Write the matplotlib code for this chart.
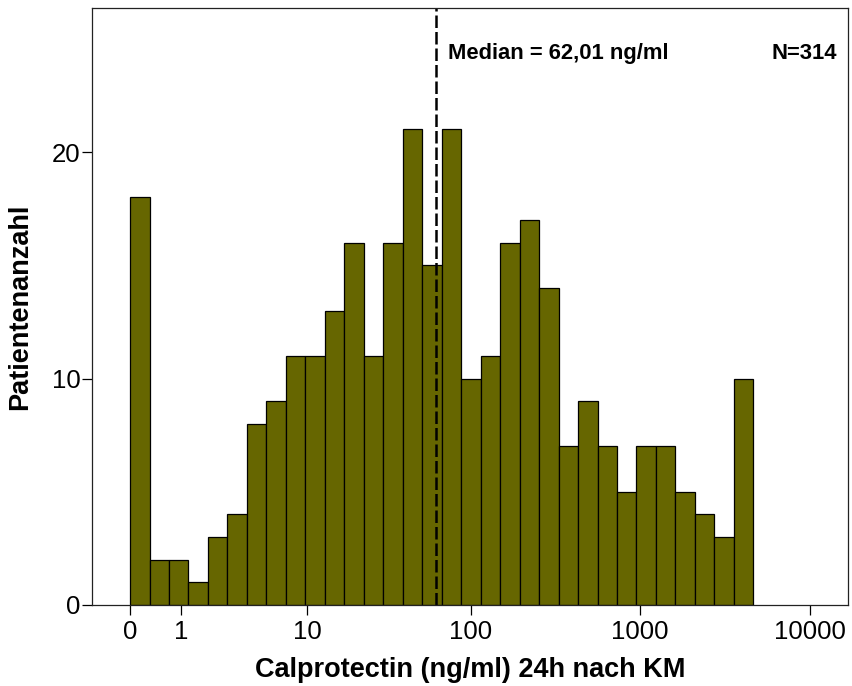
import numpy as np
import matplotlib
matplotlib.use('Agg')
import matplotlib.pyplot as plt

# counts per bin (bins equally wide on log10(x+1) axis)
counts = [18, 2, 2, 1, 3, 4, 8, 9, 11, 11, 13, 16, 11, 16, 21, 15,
          21, 10, 11, 16, 17, 14, 7, 9, 7, 5, 7, 7, 5, 4, 3, 10]
bin_w = 0.1146  # in log10(x+1) units
median = 62.01
n_total = 314
xticks = [0, 1, 10, 100, 1000, 10000]
yticks = [0, 10, 20]

plt.rcParams['font.family'] = ['Liberation Sans', 'DejaVu Sans']


def fwd(x):
    x = np.asarray(x, dtype=float)
    return np.log10(np.maximum(x, -0.999) + 1)


def inv(y):
    return 10 ** np.asarray(y, dtype=float) - 1


edges = inv(np.arange(len(counts) + 1) * bin_w)

fig = plt.figure(figsize=(8.53, 6.86), dpi=100)
ax = fig.add_axes([0.1082, 0.1181, 0.8859, 0.8698])
ax.set_xscale('function', functions=(fwd, inv))

ax.bar(edges[:-1], counts, width=np.diff(edges), align='edge',
       color='#666600', edgecolor='black', linewidth=0.9)
ax.axvline(median, color='black', linestyle=(0, (5, 1.6)), linewidth=1.8)

ax.set_xlim(inv(-0.222), inv(4.224))
ax.set_ylim(0, 26.35)
ax.set_xticks(xticks)
ax.set_xticklabels([str(t) for t in xticks])
ax.set_yticks(yticks)
ax.minorticks_off()

ax.tick_params(axis='both', direction='out', length=7, width=0.9, labelsize=18.5)
ax.tick_params(axis='x', pad=3.5)
ax.tick_params(axis='y', pad=1.5)
for s in ax.spines.values():
    s.set_linewidth(0.9)
    s.set_color('#222222')

ax.set_xlabel('Calprotectin (ng/ml) 24h nach KM', fontsize=19.5, fontweight='bold')
ax.set_ylabel('Patientenanzahl', fontsize=19.5, fontweight='bold')
ax.xaxis.set_label_coords(0.5, -0.088)
ax.yaxis.set_label_coords(-0.078, 0.5)

ax.text(0.4707, 0.925, 'Median = 62,01 ng/ml', transform=ax.transAxes,
        fontsize=15.8, fontweight='bold', ha='left', va='center')
ax.text(0.9855, 0.925, 'N=' + str(n_total), transform=ax.transAxes,
        fontsize=15.8, fontweight='bold', ha='right', va='center')

fig.savefig('out.png', dpi=100)
